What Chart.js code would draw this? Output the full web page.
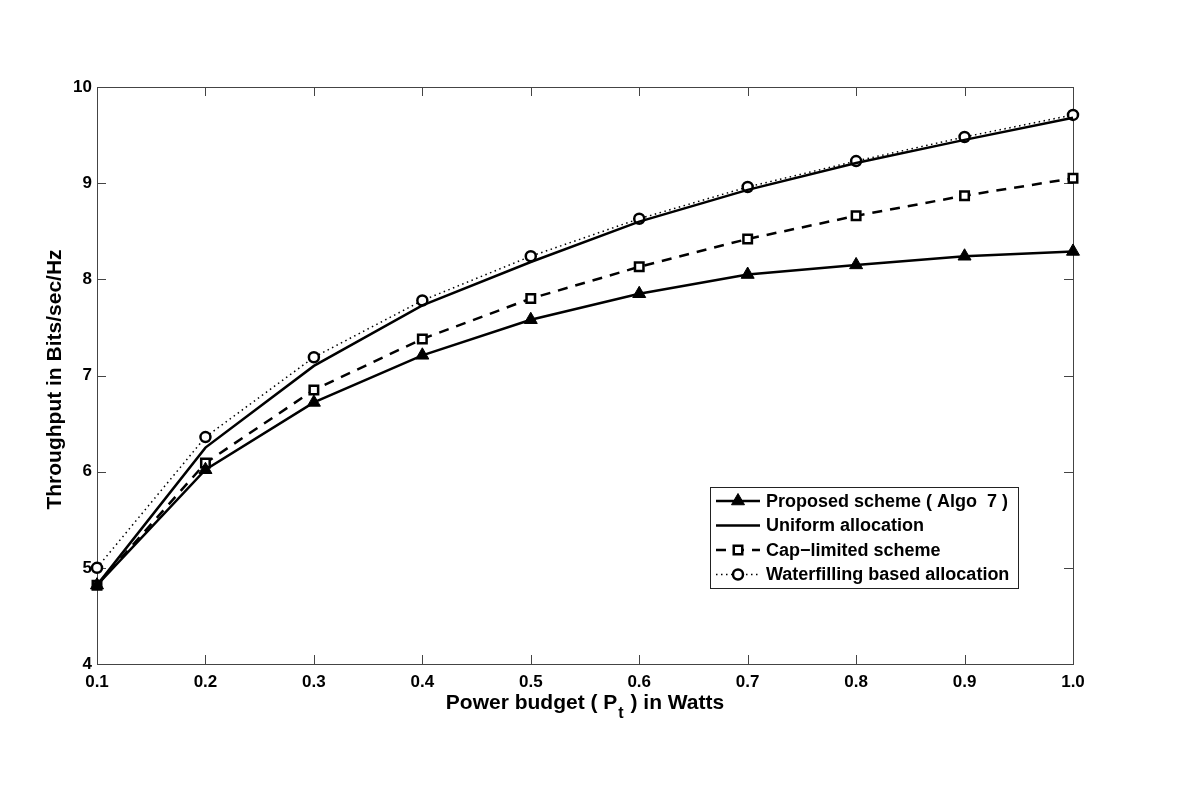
<!DOCTYPE html>
<html><head><meta charset="utf-8">
<script src="https://cdn.jsdelivr.net/npm/chart.js@4.4.1/dist/chart.umd.min.js"></script>
<style>html,body{margin:0;padding:0;background:#fff;}canvas{display:block;}</style>
</head><body>
<canvas id="c" width="1200" height="799"></canvas>
<script>
const powerBudget = [0.1,0.2,0.3,0.4,0.5,0.6,0.7,0.8,0.9,1.0];
const proposed    = [4.82,6.02,6.72,7.21,7.58,7.85,8.05,8.15,8.24,8.29];
const uniform     = [4.82,6.25,7.10,7.73,8.18,8.60,8.93,9.21,9.45,9.68];
const capLimited  = [4.82,6.09,6.85,7.38,7.80,8.13,8.42,8.66,8.87,9.05];
const waterfill   = [5.00,6.36,7.19,7.78,8.24,8.63,8.96,9.23,9.48,9.71];
const xTicks = [0.1,0.2,0.3,0.4,0.5,0.6,0.7,0.8,0.9,1.0];
const yTicks = [4,5,6,7,8,9,10];
const seriesNames = ['Proposed scheme ( Algo  7 )','Uniform allocation','Cap\u2212limited scheme','Waterfilling based allocation'];

const pts = arr => powerBudget.map((x,i)=>({x:x,y:arr[i]}));
const FONT = '"Liberation Sans", Arial, Helvetica, sans-serif';

const datasets = [
 {label:seriesNames[0], data:pts(proposed), borderColor:'#000', backgroundColor:'#000', borderWidth:2.5,
  pointStyle:'triangle', pointRadius:7.5, pointBackgroundColor:'#000', pointBorderColor:'#000', pointBorderWidth:1, clip:false},
 {label:seriesNames[1], data:pts(uniform), borderColor:'#000', borderWidth:2.5, pointRadius:0, clip:false},
 {label:seriesNames[2], data:pts(capLimited), borderColor:'#000', borderWidth:2.5, borderDash:[10,8],
  pointStyle:'rect', pointRadius:6, pointBackgroundColor:'#fff', pointBorderColor:'#000', pointBorderWidth:2.5, clip:false},
 {label:seriesNames[3], data:pts(waterfill), borderColor:'#000', borderWidth:1.5, borderDash:[1.5,3.5],
  pointStyle:'circle', pointRadius:5, pointBackgroundColor:'#fff', pointBorderColor:'#000', pointBorderWidth:2.5, clip:false}
];
datasets.forEach(d=>{d.tension=0; d.fill=false;});

const decor = {
 id:'decor',
 beforeDatasetsDraw(chart){
  const {ctx, chartArea:a, scales:{x,y}} = chart;
  ctx.save();
  ctx.strokeStyle='#444'; ctx.lineWidth=1;
  ctx.strokeRect(a.left+0.5, a.top+0.5, a.right-a.left, a.bottom-a.top);
  const L=9;
  ctx.beginPath();
  xTicks.forEach(v=>{const px=Math.round(x.getPixelForValue(v))+0.5;
    ctx.moveTo(px,a.bottom); ctx.lineTo(px,a.bottom-L);
    ctx.moveTo(px,a.top); ctx.lineTo(px,a.top+L);});
  yTicks.forEach(v=>{const py=Math.round(y.getPixelForValue(v))+0.5;
    ctx.moveTo(a.left,py); ctx.lineTo(a.left+L,py);
    ctx.moveTo(a.right,py); ctx.lineTo(a.right-L,py);});
  ctx.stroke();
  ctx.restore();
 },
 afterDraw(chart){
  const {ctx, chartArea:a} = chart;
  ctx.save();
  ctx.fillStyle='#000';
  // y title
  ctx.font='bold 21px '+FONT;
  ctx.translate(55,(a.top+a.bottom)/2+4);
  ctx.rotate(-Math.PI/2);
  ctx.textAlign='center'; ctx.textBaseline='middle';
  ctx.fillText('Throughput in Bits/sec/Hz',0,0);
  ctx.restore();
  // x title with subscript
  ctx.save();
  ctx.fillStyle='#000';
  const big='bold 21px '+FONT, small='bold 16px '+FONT;
  const p1='Power budget ( P', p2='t', p3=' ) in Watts';
  ctx.font=big; const w1=ctx.measureText(p1).width, w3=ctx.measureText(p3).width;
  ctx.font=small; const w2=ctx.measureText(p2).width+2;
  const total=w1+w2+w3; let sx=(a.left+a.right)/2-total/2; const by=709;
  ctx.textBaseline='alphabetic'; ctx.textAlign='left';
  ctx.font=big; ctx.fillText(p1,sx,by);
  ctx.font=small; ctx.fillText(p2,sx+w1+1,by+9);
  ctx.font=big; ctx.fillText(p3,sx+w1+w2,by);
  ctx.restore();
  // legend
  ctx.save();
  const bx=710, byy=487, bw=308, bh=101;
  ctx.fillStyle='#fff'; ctx.fillRect(bx,byy,bw,bh);
  ctx.strokeStyle='#222'; ctx.lineWidth=1; ctx.strokeRect(bx+0.5,byy+0.5,bw,bh);
  ctx.font='bold 18px '+FONT; ctx.textBaseline='middle'; ctx.textAlign='left';
  chart.data.datasets.forEach((d,i)=>{
   const ly=byy+14+i*24.5;
   ctx.save();
   ctx.strokeStyle='#000'; ctx.lineWidth=d.borderWidth; ctx.setLineDash(d.borderDash||[]);
   ctx.beginPath(); ctx.moveTo(716,ly); ctx.lineTo(760,ly); ctx.stroke();
   ctx.setLineDash([]);
   if(d.pointRadius>0){
     ctx.fillStyle=d.pointBackgroundColor; ctx.strokeStyle=d.pointBorderColor; ctx.lineWidth=d.pointBorderWidth;
     Chart.helpers.drawPoint(ctx,{pointStyle:d.pointStyle,radius:d.pointRadius,borderWidth:d.pointBorderWidth,rotation:0},738,ly);
   }
   ctx.restore();
   ctx.fillStyle='#000';
   ctx.fillText(d.label,766,ly+1);
  });
  ctx.restore();
 }
};

new Chart(document.getElementById('c'),{
 type:'line',
 data:{datasets:datasets},
 options:{
  responsive:false, animation:false,
  layout:{padding:{left:0,right:127,top:87,bottom:0}},
  plugins:{legend:{display:false}, tooltip:{enabled:false}},
  scales:{
   x:{type:'linear', min:0.1, max:1.0,
      afterBuildTicks:s=>{s.ticks=xTicks.map(v=>({value:v}));},
      afterFit:s=>{s.height=135;},
      grid:{display:false, drawTicks:false}, border:{display:false},
      ticks:{padding:8, color:'#000', font:{family:FONT,size:17,weight:'bold'}, maxRotation:0, autoSkip:false, callback:v=>Number(v).toFixed(1)}},
   y:{type:'linear', min:4, max:10,
      afterBuildTicks:s=>{s.ticks=yTicks.map(v=>({value:v}));},
      afterFit:s=>{s.width=97;},
      grid:{display:false, drawTicks:false}, border:{display:false},
      ticks:{padding:5, color:'#000', font:{family:FONT,size:17,weight:'bold'}, callback:v=>String(v)}}
  }
 },
 plugins:[decor]
});
</script>
</body></html>
